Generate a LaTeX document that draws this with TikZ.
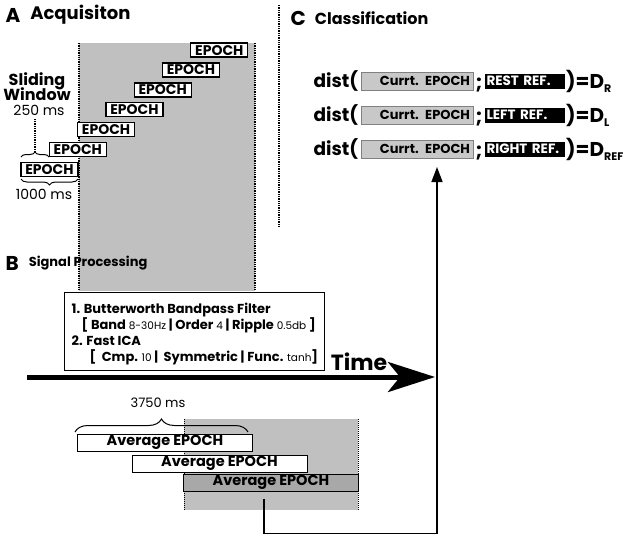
\documentclass[tikz,border=0pt]{standalone}
\usepackage{fontspec}
\setmainfont{Poppins}
\usetikzlibrary{arrows.meta, positioning, decorations.pathreplacing}
\definecolor{bandgray}{RGB}{192,192,192}
\definecolor{curgray}{RGB}{200,200,200}
\definecolor{avggray}{RGB}{168,168,168}
\newcommand{\fs}[1]{\fontsize{#1}{#1}\selectfont}
\newcommand{\val}[1]{{\mdseries\fontsize{10.5}{16}\selectfont #1}}

\begin{document}
\begin{tikzpicture}[
		x=1pt, y=-1pt,
		band/.style={fill=bandgray, draw=none},
		sep/.style={densely dotted, line width=1.3pt},
		epoch/.style={draw, line width=1.3pt, fill=white, inner sep=0pt, minimum width=57pt, minimum height=14pt, font=\bfseries\fs{14}},
		avgbox/.style={draw, line width=1pt, fill=white, inner sep=0pt, minimum width=175pt, minimum height=17pt, font=\bfseries\fs{14.5}},
		procbox/.style={draw, line width=1pt, fill=white, minimum width=260pt, minimum height=78pt},
		proctext/.style={anchor=north west, align=left, inner sep=0pt, font=\bfseries\fontsize{13}{16}\selectfont},
		curbox/.style={draw=gray, line width=1pt, fill=curgray, inner sep=0pt, minimum width=112pt, minimum height=18pt, text width=106pt, align=right, font=\bfseries\fs{13}},
		refbox/.style={fill=black, text=white, inner sep=0pt, minimum width=80pt, minimum height=15pt, text width=77pt, align=left, font=\bfseries\fs{13.5}},
		panel/.style={anchor=west, font=\bfseries\fs{16}},
		letter/.style={anchor=west, font=\bfseries\fs{20}},
		brace/.style={decorate, decoration={brace, amplitude=#1}, line width=1pt},
		link/.style={line width=1.5pt, -{Triangle[length=15pt, width=11pt]}}
	]
	\useasboundingbox (0,0) rectangle (630,539);

	\fill[band] (79,43) rectangle (255,291);
	\draw[sep] (79,43) -- (79,291);
	\draw[sep] (255,43) -- (255,291);
	\draw[sep] (279,5) -- (279,228);

	\node[letter] (la) at (2,15) {A};
	\node[panel, right=3pt of la, font=\bfseries\fs{18}] {Acquisiton};

	\foreach \k in {0,...,6}
		\node[epoch] (ep\k) at ({49.5+28.3*\k},{169.5-19.9*\k}) {EPOCH};

	\node[align=center, font=\bfseries\fs{16}] (slide) at (37,87) {Sliding\\[-3pt]Window};
	\node[font=\fs{14}] (winms) at (39,110) {250 ms};
	\draw[brace=5pt] (21,157) -- (49,157) coordinate[midway] (wb);
	\draw[densely dotted, line width=1.3pt] (winms.south -| wb) -- ([yshift=6pt]wb);
	\draw[brace=6pt] (78,179) -- (21,179);
	\node[font=\fs{14}] (epms) at (44,194) {1000 ms};

	\node[letter] (lb) at (2,263) {B};
	\node[panel, right=3pt of lb, font=\bfseries\fs{13}] {Signal Processing};

	\node[procbox] (filt) at (194,331) {};
	\node[proctext] (steps) at ([xshift=8pt, yshift=-11pt]filt.north west) {%
		1. Butterworth Bandpass Filter\\
		\hspace*{10pt}[ Band \val{8-30Hz} | Order \val{4} | Ripple \val{0.5db} ]\\
		2. Fast ICA\\
		\hspace*{18pt}[ \ Cmp. \val{10} | \ Symmetric | Func. \val{tanh}]};

	\coordinate (t0) at (27,377);
	\coordinate (t1) at (435,377);
	\draw[line width=5pt, -{Stealth[length=47pt, width=30pt, inset=12pt]}] (t0) -- (t1);
	\node[font=\bfseries\fs{22}] (time) at (359,362) {Time};

	\fill[band] (184,419) rectangle (358,510);
	\draw[sep, line width=1pt] (184,419) -- (184,510);
	\draw[sep, line width=1pt] (358,419) -- (358,510);
	\node[font=\fs{13}] (avgms) at (158,403) {3750 ms};
	\draw[brace=13pt] (75,432) -- (248,432);
	\node[avgbox] (avg1) at (165,442.5) {Average EPOCH};
	\node[avgbox] (avg2) at (219.5,463.5) {Average EPOCH};
	\node[avgbox, fill=avggray] (avg3) at (271,482.5) {Average EPOCH};

	\node[letter] (lc) at (287,18) {C};
	\node[panel, right=2pt of lc] {Classification};

	\foreach \k/\r/\d in {0/REST REF./R, 1/LEFT REF./L, 2/RIGHT REF./REF} {
		\node[anchor=west, font=\bfseries\fs{18.5}] (dist\k) at (310,{81+34*\k}) {dist(};
		\node[curbox] (cur\k) at (417,{81+34*\k}) {Currt. EPOCH};
		\node[font=\bfseries\fs{20}] (semi\k) at (479,{85+34*\k}) {;};
		\node[refbox] (ref\k) at (525,{81+34*\k}) {\r};
		\node[anchor=west, inner sep=0pt, font=\bfseries\fs{20}] (res\k) at (566,{81+34*\k}) {)=D\raisebox{-4pt}{\fs{11}\d}};
	}

	\coordinate (goal) at (437,167);
	\draw[link] ([xshift=-7pt, yshift=-7pt]avg3.south) -- ++(0,35) -| (goal);
\end{tikzpicture}
\end{document}
